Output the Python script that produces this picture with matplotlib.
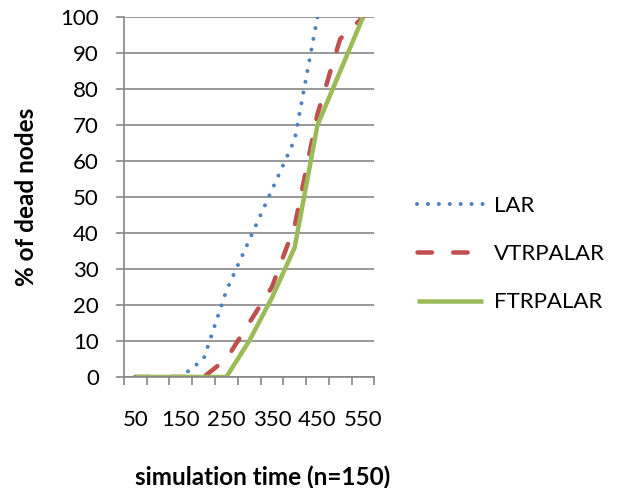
import numpy as np
import matplotlib
matplotlib.use('Agg')
import matplotlib.pyplot as plt

plt.rcParams['font.family'] = ['Lato', 'DejaVu Sans']

categories = ['50', '100', '150', '200', '250', '300', '350', '400', '450', '500', '550']
lar = [0, 0, 0, 5, 24, 38, 52, 66, 100, np.nan, np.nan]
vtrpalar = [0, 0, 0, 0, 5, 15, 25, 42, 73, 94, 100]
ftrpalar = [0, 0, 0, 0, 0, 10, 22, 36, 70, 85, 100]

grey = '#868686'
fs = 16
fs_lab = 17.5

fig = plt.figure(figsize=(6.29, 4.88), dpi=100)
ax1 = fig.add_axes([0.1971, 0.2275, 0.398, 0.737])

x = np.arange(len(categories))

l1, = ax1.plot(x, lar, c='#4F81BD', lw=2.9, ls=(0, (0.01, 2.7)),
               dash_capstyle='round', label='LAR')
l2, = ax1.plot(x, vtrpalar, c='#C0504D', lw=3.25, ls=(0, (3.2, 4.7)),
               dash_capstyle='round', label='VTRPALAR')
l3, = ax1.plot(x, ftrpalar, c='#9BBB59', lw=3.25, solid_capstyle='butt',
               label='FTRPALAR')

ax1.set_xlim(-0.5, len(categories) - 0.5)
ax1.set_ylim(0, 100)
ax1.set_yticks(range(0, 101, 10))
ax1.set_xticks(x[::2])
ax1.set_xticklabels(categories[::2])
ax1.set_xticks(np.arange(-0.5, len(categories), 1), minor=True)

ax1.tick_params(axis='x', which='major', length=0, pad=24, labelsize=fs)
ax1.tick_params(axis='x', which='minor', length=6, width=1.2, color=grey,
                direction='out')
ax1.tick_params(axis='y', length=6, width=1.2, color=grey, pad=12,
                labelsize=fs)

ax1.grid(axis='y', color=grey, lw=1.2)
ax1.set_axisbelow(True)
for s in ['top', 'right']:
    ax1.spines[s].set_visible(False)
for s in ['left', 'bottom']:
    ax1.spines[s].set_color(grey)
    ax1.spines[s].set_linewidth(1.2)

ax1.set_xlabel('simulation time (n=150)', size=fs_lab, fontweight='bold')
ax1.xaxis.set_label_coords(0.553, -0.245)
ax1.set_ylabel('% of dead nodes', size=fs_lab, fontweight='bold')
ax1.yaxis.set_label_coords(-0.345, 0.5)

leg = fig.legend(handles=[l1, l2, l3], loc='center left',
                 bbox_to_anchor=(0.663, 0.4795), frameon=False, fontsize=fs,
                 handlelength=2.97, handletextpad=0.5, labelspacing=1.28,
                 borderpad=0, borderaxespad=0)

plt.savefig('out.png')
